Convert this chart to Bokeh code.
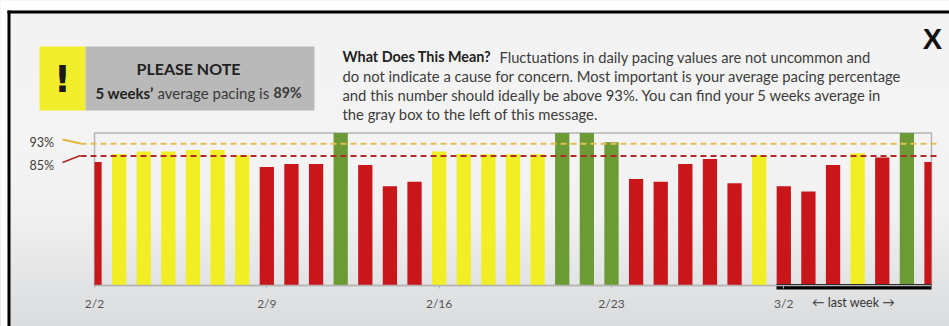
from bokeh.core.properties import value
from bokeh.embed import file_html
from bokeh.resources import INLINE
from bokeh.plotting import figure
from bokeh.models import ColumnDataSource, FixedTicker, Range1d
import numpy as np

# Daily pacing, 2/2 through 3/8 (percent; days at 100 run to the top of the box)
days = list(range(35))
pacing = [81.0, 86.2, 87.8, 87.8, 88.9, 88.9, 85.6,
          77.7, 79.7, 79.7, 100, 79.0, 65.1, 68.1,
          87.8, 86.2, 86.0, 86.0, 86.0, 100, 100,
          93.9, 69.8, 68.1, 79.7, 83.0, 67.0, 85.6,
          65.1, 61.6, 79.0, 86.7, 84.0, 100, 81.0]
tick_days = [0, 7, 14, 21, 28]
tick_labels = ["2/2", "2/9", "2/16", "2/23", "3/2"]
HIGH, LOW = 93, 85
RED, YELLOW, GREEN = "#c8161a", "#f2ee25", "#6c9a35"
INK = "#3c3c3c"
FONT = "Lato"

W, H = 949, 326
LEFT, RIGHT, TOP, BOTTOM = 94, 931, 132.5, 285
BAR = 0.58
px_day = (RIGHT - LEFT) / 34
px_pct = (BOTTOM - TOP) / 100


def band(v):
    return GREEN if v >= HIGH else YELLOW if v >= LOW else RED


page_bg = ("linear-gradient(to bottom,#f2f2f2 0px,#f4f4f4 135px,#f1f1f1 210px,"
           "#e3e4e5 280px,#dbdcde 326px)")

# The frame fills the page; the day/percent scales are set so the box lands in place
p = figure(width=W, height=H, output_backend="svg", toolbar_location=None,
           x_range=Range1d(-LEFT / px_day, (W - LEFT) / px_day),
           y_range=Range1d((BOTTOM - H) / px_pct, BOTTOM / px_pct),
           min_border=0, background_fill_color=None, border_fill_color=None,
           outline_line_color=None)
p.styles = {"background": page_bg}
p.extra_x_ranges["page"] = Range1d(0, W)
p.extra_y_ranges["page"] = Range1d(H, 0)
p.grid.visible = False
p.yaxis.visible = False

ax = p.xaxis[0]
ax.fixed_location = 0
ax.bounds = (0, 34)
ax.ticker = FixedTicker(ticks=tick_days)
ax.major_label_overrides = dict(zip(tick_days, tick_labels))
ax.major_label_text_font = FONT
ax.major_label_text_font_size = "12px"
ax.major_label_text_color = "#555555"
ax.major_label_standoff = 7
ax.axis_line_color = "#b4b4b4"
ax.axis_line_width = 1.5
ax.major_tick_line_color = "#b4b4b4"
ax.major_tick_in = 0
ax.major_tick_out = 3
ax.minor_tick_line_color = None

PAGE = dict(x_range_name="page", y_range_name="page")


def box(x0, x1, y0, y1, color):
    p.quad(left=x0, right=x1, top=y0, bottom=y1, fill_color=color, line_color=None, **PAGE)


def text(x, y, s, size, color=INK, bold=False, align="left", font=FONT):
    p.text(x=[x], y=[y], text=[s], text_font=value(font), text_font_size=f"{size}px",
           text_color=color, text_font_style="bold" if bold else "normal",
           text_align=align, text_baseline="middle", **PAGE)


# Page margin and outer frame lines
box(0, W, 0, 10, "#ffffff")
box(0, 7, 0, H, "#ffffff")
box(7, W, 10, 13, "#000000")
box(7, 10, 10, H, "#000000")

# Plot box
p.quad(left=0, right=34, top=100, bottom=0, fill_color=None,
       line_color="#b4b4b4", line_width=1.5)

# Bars: the first and last day are cut in half by the plot box
left = np.clip(np.array(days) - BAR / 2, 0, 34)
right = np.clip(np.array(days) + BAR / 2, 0, 34)
src = ColumnDataSource(dict(left=left, right=right, top=pacing,
                            bottom=[0] * len(days),
                            color=[band(v) for v in pacing]))
p.quad(left="left", right="right", top="top", bottom="bottom", source=src,
       fill_color="color", line_color=None)

# Threshold lines with their short leaders toward the labels
line_left, line_right = (80 - LEFT) / px_day, (939 - LEFT) / px_day
p.line([line_left, line_right], [HIGH, HIGH], line_color="#e6bd52", line_width=2, line_dash="6 4")
p.line([line_left, line_right], [LOW, LOW], line_color="#b02a2a", line_width=2, line_dash="6 4")
p.line([62, 80], [139, 143], line_color="#e0b83a", line_width=1.8, **PAGE)
p.line([62, 80], [162, 155], line_color="#b02a2a", line_width=1.8, **PAGE)
text(29, 142, f"{HIGH}%", 12.5)
text(29, 165, f"{LOW}%", 12.5)

# Heavy rule under the final week
box(776, 931, 283.5, 289, "#000000")
text(853, 302, "\u2190 last week \u2192", 12.5, "#333333", align="center")

# Notice box
box(39, 85, 46, 110, "#f2ee2c")
box(85, 314, 46, 110, "#b9b9b9")
text(62, 79, "!", 37, "#1a1a1a", bold=True, align="center", font="DejaVu Sans")
text(188, 68, "PLEASE NOTE", 16, "#222222", bold=True, align="center")
text(95, 92, "5 weeks\u2019", 15, "#222222", bold=True)
text(157, 92, "average pacing is", 15, "#3a3a3a")
text(273, 92, "89%", 14.2, "#3a3a3a", bold=True)

# Explanation text
text(342, 56, "What Does This Mean?", 14.4, "#222222", bold=True)
text(499, 56, "Fluctuations in daily pacing values are not uncommon and", 14.7)
text(342, 75, "do not indicate a cause for concern. Most important is your average pacing percentage", 14.8)
text(342, 94, "and this number should ideally be above 93%. You can find your 5 weeks average in", 14.8)
text(342, 113, "the gray box to the left of this message.", 14.8)
text(932, 38, "X", 29, "#111111", bold=True, align="center", font="Liberation Sans")

open("out.html", "w").write(file_html(p, INLINE))
